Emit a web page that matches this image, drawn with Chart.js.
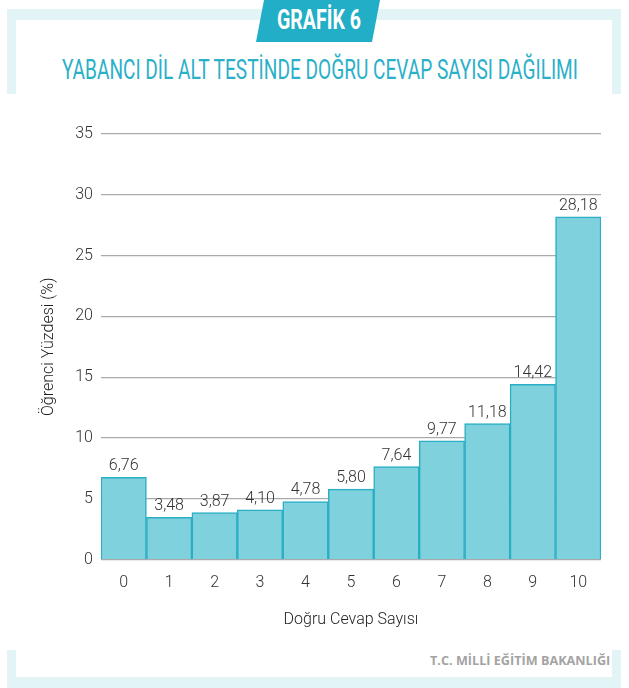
<!DOCTYPE html>
<html>
<head>
<meta charset="utf-8">
<script src="https://cdn.jsdelivr.net/npm/chart.js@4"></script>
<style>
  body { margin: 0; background: #fff; font-family: Roboto, sans-serif; }
  #page { position: relative; width: 629px; height: 688px; overflow: hidden; }
  .band { position: absolute; background: #e3f4f7; }
  .fit { position: absolute; white-space: nowrap; transform-origin: 0 0; }
  #wrap { position: absolute; left: 0; top: 0; width: 629px; height: 688px; }
</style>
</head>
<body>
<div id="page">
  <!-- frame -->
  <div class="band" style="left:7px;top:9px;width:614px;height:11px"></div>
  <div class="band" style="left:7px;top:9px;width:9px;height:85px"></div>
  <div class="band" style="left:612px;top:9px;width:9px;height:85px"></div>
  <div class="band" style="left:7px;top:650px;width:9px;height:38px"></div>
  <div class="band" style="left:612px;top:650px;width:9px;height:38px"></div>
  <div class="band" style="left:7px;top:677px;width:614px;height:11px"></div>
  <svg style="position:absolute;left:250px;top:0" width="140" height="44">
    <polygon points="14,0 130,0 122,42 6,42" fill="#22aec6"/>
  </svg>
  <div class="fit" id="tab" style="color:#fff;font-weight:bold;font-size:27px">GRAFİK 6</div>
  <div class="fit" id="title" style="color:#2ab0c8;font-size:28px">YABANCI DİL ALT TESTİNDE DOĞRU CEVAP SAYISI DAĞILIMI</div>
  <div class="fit" id="foot" style="color:#a3a3a3;font-weight:bold;font-size:13px;font-family:'Open Sans',sans-serif">T.C. MİLLİ EĞİTİM BAKANLIĞI</div>
  <div id="wrap"><canvas id="myChart"></canvas></div>
</div>
<script>
// Data
var categories = ["0", "1", "2", "3", "4", "5", "6", "7", "8", "9", "10"];
var percents = [6.76, 3.48, 3.87, 4.10, 4.78, 5.80, 7.64, 9.77, 11.18, 14.42, 28.18];
var yTicks = [0, 5, 10, 15, 20, 25, 30, 35];

// stretch/condense a text block into a box
function fit(id, left, top, width, height) {
  var el = document.getElementById(id);
  var w = el.offsetWidth, h = el.offsetHeight;
  el.style.left = left + "px";
  el.style.top = top + "px";
  el.style.transform = "scale(" + (width / w) + "," + (height / h) + ")";
}
fit("tab", 277, 4, 84, 32);
fit("title", 62, 53, 516, 33);
fit("foot", 430, 652, 180, 17);

var txt = { family: "Roboto", size: 16, weight: "300" };

// value labels above bars, with comma decimals
var valueLabels = {
  id: "valueLabels",
  afterDatasetsDraw: function(chart) {
    var c = chart.ctx;
    var meta = chart.getDatasetMeta(0);
    c.save();
    c.font = "300 16px Roboto";
    c.fillStyle = "#333";
    c.textAlign = "center";
    c.textBaseline = "bottom";
    for (var i = 0; i < meta.data.length; i++) {
      var bar = meta.data[i];
      c.fillText(percents[i].toFixed(2).replace(".", ","), bar.x, bar.y - 3);
    }
    c.restore();
  }
};

var ctx = document.getElementById("myChart");
var myChart = new Chart(ctx, {
  type: "bar",
  data: {
    labels: categories,
    datasets: [{
      data: percents,
      backgroundColor: "#7fd1dd",
      borderColor: "#2aaec4",
      borderWidth: 1.5,
      barPercentage: 1,
      categoryPercentage: 1
    }]
  },
  options: {
    responsive: true,
    maintainAspectRatio: false,
    animation: false,
    layout: { padding: { left: 35, right: 28, top: 134, bottom: 54 } },
    plugins: { legend: { display: false }, tooltip: { enabled: false } },
    scales: {
      x: {
        grid: { display: false },
        border: { display: false },
        ticks: { color: "#333", font: txt, padding: 6 },
        title: { display: true, text: "Doğru Cevap Sayısı", color: "#222", font: txt, padding: { top: 12 } }
      },
      y: {
        min: 0,
        max: 35,
        afterBuildTicks: function(axis) {
          axis.ticks = yTicks.map(function(v) { return { value: v }; });
        },
        grid: { color: "#aaaaaa", lineWidth: 1.2, drawTicks: false },
        border: { display: false },
        ticks: { color: "#333", font: txt, padding: 8 },
        title: { display: true, text: "Öğrenci Yüzdesi (%)", color: "#222", font: txt, padding: { bottom: 9 } }
      }
    }
  },
  plugins: [valueLabels]
});
</script>
</body>
</html>
